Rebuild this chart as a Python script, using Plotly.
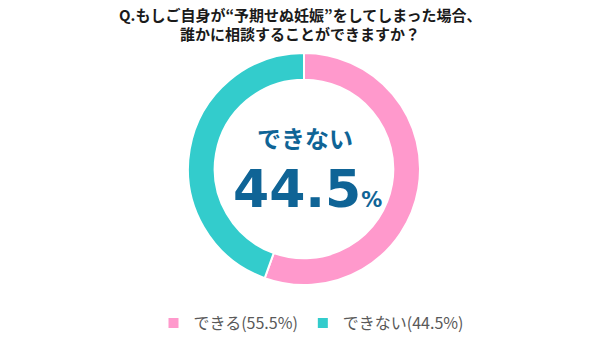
import plotly.graph_objects as go

labels = ["できる(55.5%)", "できない(44.5%)"]
values = [55.5, 44.5]
colors = ["#FF99CC", "#33CCCC"]
title_lines = ["Q.もしご自身が“予期せぬ妊娠”をしてしまった場合、", "誰かに相談することができますか？"]
center_label = "できない"
center_value = "44.5"

W, H = 603, 352

def px(x):
    return x / W

def py(y):
    return (H - y) / H

cx, cy, half = 304, 169, 116

fig = go.Figure(go.Pie(
    labels=labels, values=values, sort=False, direction="clockwise", rotation=0,
    hole=0.77, marker=dict(colors=colors, line=dict(color="white", width=2)),
    textinfo="none", hoverinfo="label",
    domain=dict(x=[px(cx - half), px(cx + half)], y=[py(cy + half), py(cy - half)]),
))

jp = "Noto Sans CJK JP"
ann = [
    dict(text="<b>" + title_lines[0] + "</b>", x=px(300), y=py(15), font=dict(size=15, color="#1a1a1a", family=jp)),
    dict(text="<b>" + title_lines[1] + "</b>", x=px(300), y=py(34), font=dict(size=15, color="#1a1a1a", family=jp)),
    dict(text="<b>" + center_label + "</b>", x=px(305), y=py(137), font=dict(size=24, color="#0F6496", family=jp)),
    dict(text="<b>" + center_value + "<span style='font-size:21px'>%</span></b>", x=px(307), y=py(189),
         font=dict(size=52, color="#0F6496", family="DejaVu Sans")),
]
for a in ann:
    a.update(xref="paper", yref="paper", showarrow=False, xanchor="center", yanchor="middle")

fig.update_layout(
    width=W, height=H, margin=dict(l=0, r=0, t=0, b=0),
    paper_bgcolor="white", plot_bgcolor="white",
    annotations=ann,
    showlegend=True,
    legend=dict(orientation="h", x=px(311), xanchor="center", y=py(323), yanchor="middle",
                font=dict(size=16, color="#595959", family=jp)),
)
fig.write_html("out.html")
